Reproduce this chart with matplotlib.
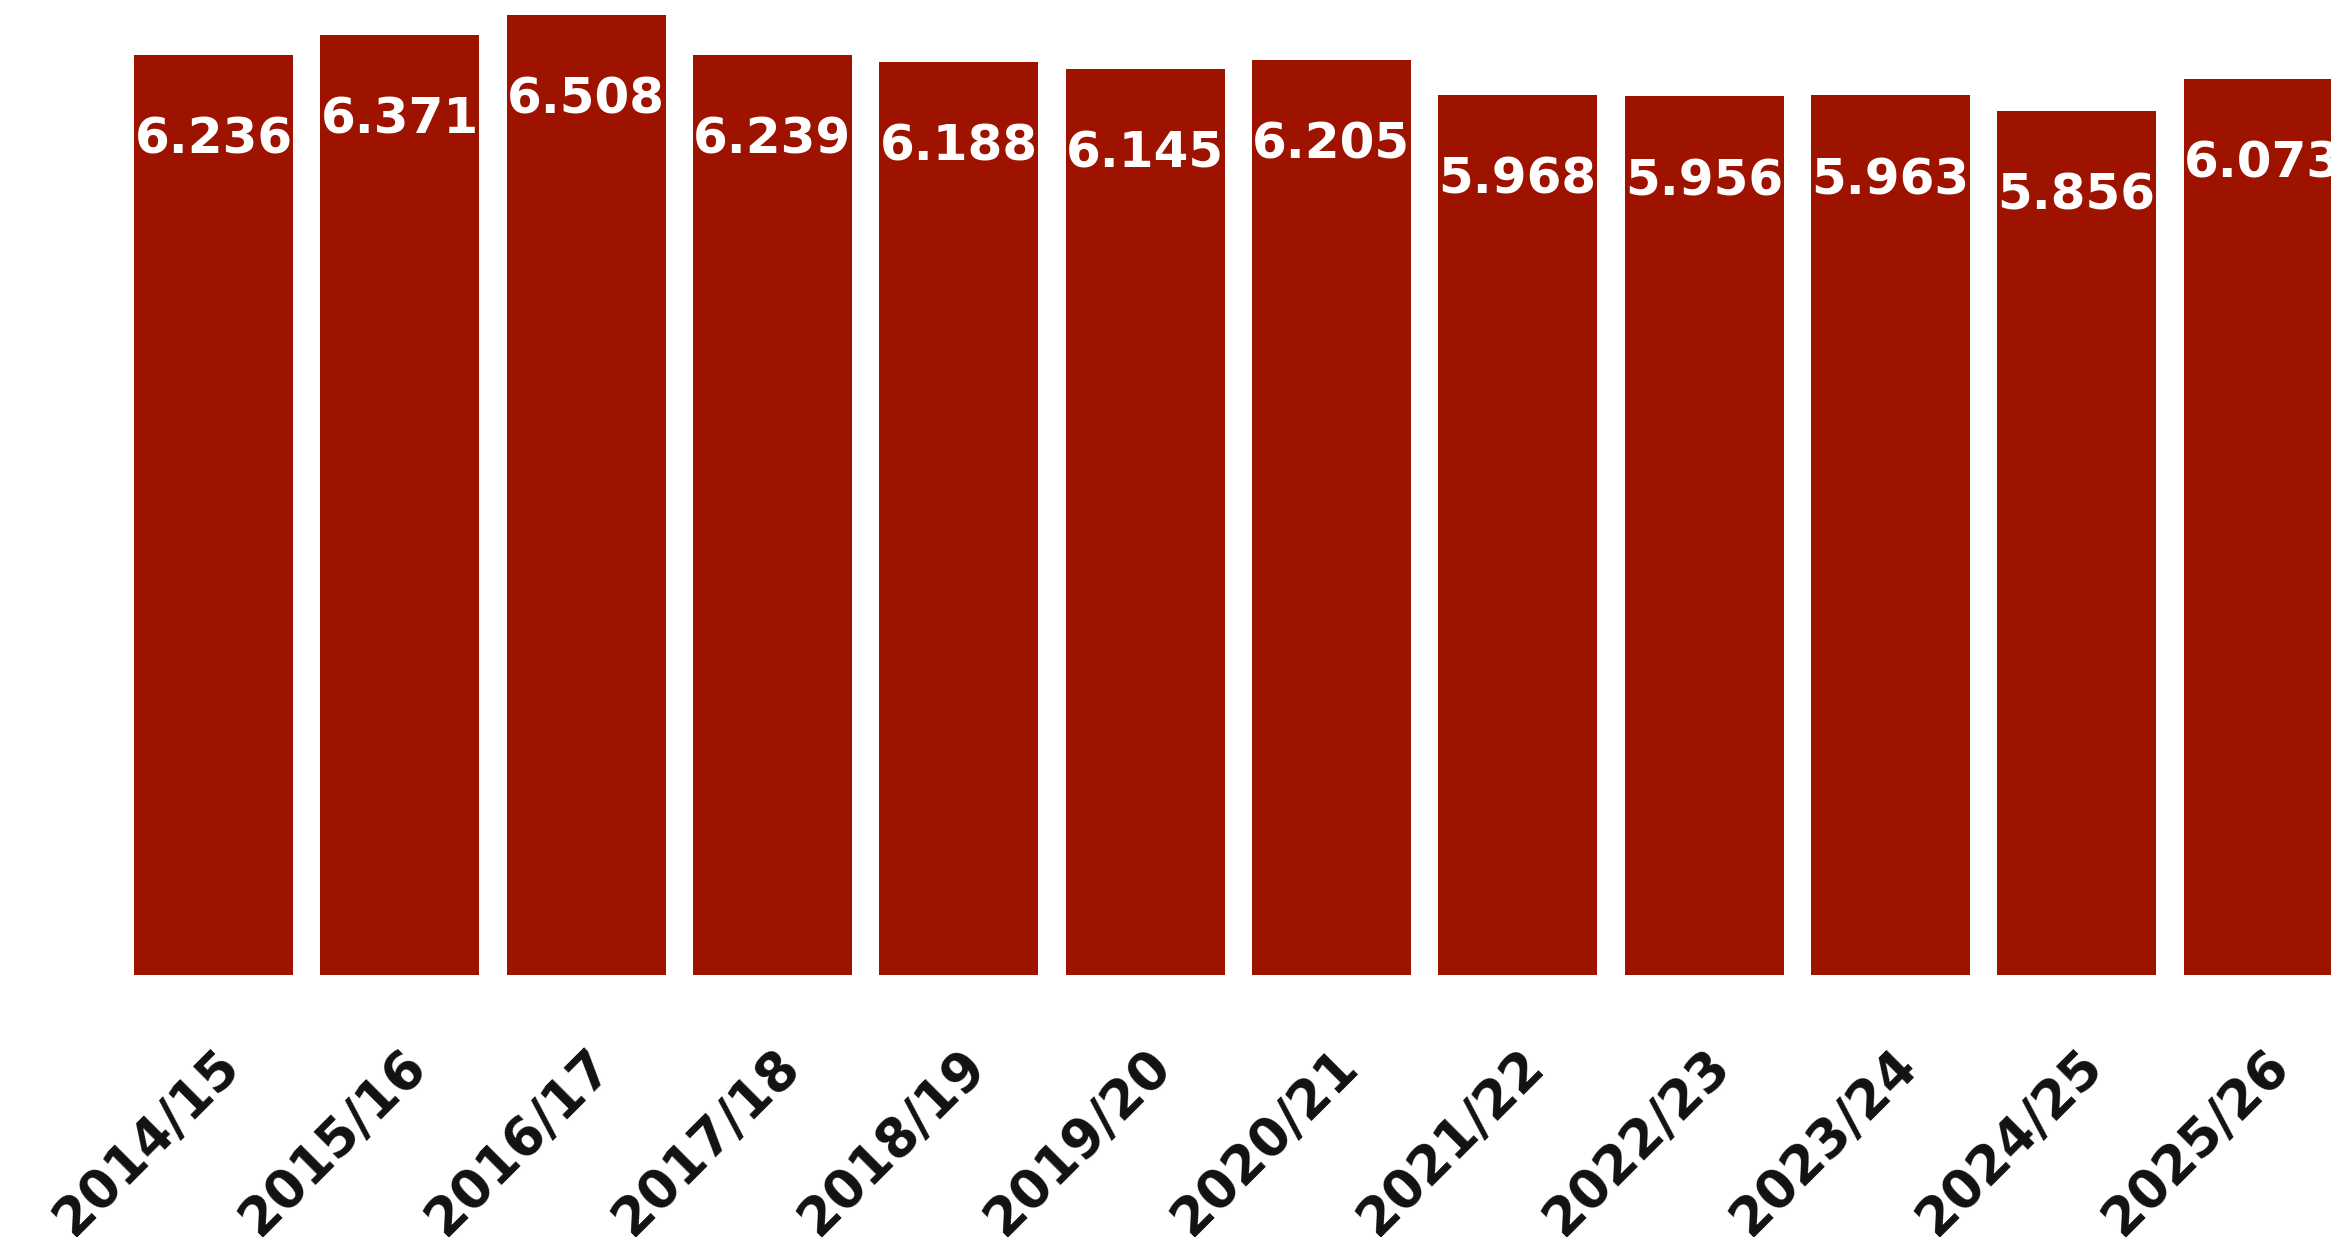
import matplotlib.pyplot as plt
import numpy as np

seasons = ['2014/15', '2015/16', '2016/17', '2017/18', '2018/19', '2019/20',
           '2020/21', '2021/22', '2022/23', '2023/24', '2024/25', '2025/26']
values = [6.236, 6.371, 6.508, 6.239, 6.188, 6.145,
          6.205, 5.968, 5.956, 5.963, 5.856, 6.073]

bar_color = '#9e1200'

fig = plt.figure(figsize=(23.31, 12.37), dpi=100)
ax = fig.add_axes([0, 0.2118, 1, 0.7882])

x = np.arange(len(seasons))
bars = ax.bar(x, values, width=0.853, color=bar_color)

# value labels just inside the top of each bar
for xi, v in zip(x, values):
    ax.annotate(f'{v:.3f}', (xi, v), xytext=(0, -61), textcoords='offset points',
                ha='center', va='center', color='white', fontsize=36,
                fontweight='bold')

ax.set_xlim(-1.146, 11.365)
ax.set_ylim(0, 6.61)
ax.set_xticks(x)
ax.set_xticklabels(seasons, rotation=45, ha='right', rotation_mode='anchor',
                   fontsize=38, fontweight='bold', color='#111111')
ax.tick_params(axis='x', length=0, pad=46)
ax.set_yticks([])
for s in ax.spines.values():
    s.set_visible(False)

fig.savefig('out.png', dpi=100)
